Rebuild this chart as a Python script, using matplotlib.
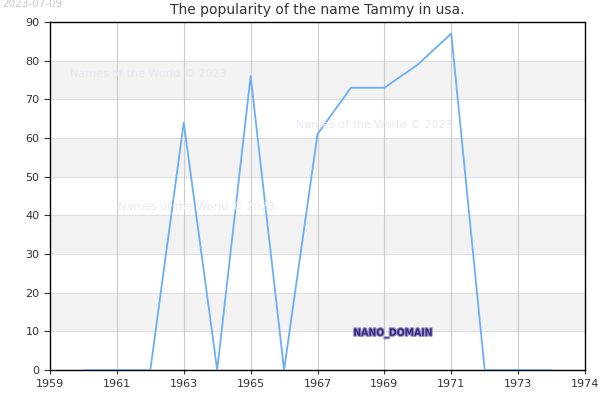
import matplotlib
matplotlib.use('Agg')
import matplotlib.pyplot as plt
import matplotlib.patheffects as pe

years = [1960, 1961, 1962, 1963, 1964, 1965, 1966, 1967, 1968, 1969, 1970, 1971, 1972, 1973, 1974]
counts = [0, 0, 0, 64, 0, 76, 0, 61, 73, 73, 79, 87, 0, 0, 0]
xticks = [1959, 1961, 1963, 1965, 1967, 1969, 1971, 1973, 1975]
xlabels = ['1959', '1961', '1963', '1965', '1967', '1969', '1971', '1973', '1974']
yticks = [0, 10, 20, 30, 40, 50, 60, 70, 80, 90]

fig = plt.figure(figsize=(6, 4), dpi=100)
ax = fig.add_axes([50/600, 30/400, 535/600, 348/400])

# alternating bands
for lo in range(10, 90, 20):
    ax.axhspan(lo, lo + 10, color='#f2f2f2', zorder=0)
for y in yticks:
    ax.axhline(y, color='#e0e0e0', lw=0.8, zorder=1)
for x in xticks[1:-1]:
    ax.axvline(x, color='#cccccc', lw=0.8, zorder=1)

ax.plot(years, counts, color='#6aaef5', lw=1.3, zorder=3)

ax.set_xlim(1959, 1975)
ax.set_ylim(0, 90)
ax.set_xticks(xticks)
ax.set_xticklabels(xlabels)
ax.set_yticks(yticks)
ax.tick_params(labelsize=8, colors='#333333', length=3)
ax.tick_params(axis='y', length=4)
for s in ax.spines.values():
    s.set_color('black')
    s.set_linewidth(1)

ax.set_title('The popularity of the name Tammy in usa.', fontsize=10, color='#333333', pad=6)

fig.text(70/600, 1 - 74/400, 'Names of the World © 2023', color='#e8e8f5', fontsize=8, va='center')
fig.text(296/600, 1 - 125/400, 'Names of the World © 2023', color='#e8e8f5', fontsize=8, va='center')
fig.text(118/600, 1 - 207/400, 'Names of the World © 2023', color='#e8e8f5', fontsize=8, va='center')

fig.text(2/600, 1 - 4/400, '2023-07-09', color='#c8c8c8', fontsize=7.5, va='center')

t = fig.text(393/600, 1 - 333/400, 'NANO_DOMAIN', color='#3c2a78', fontsize=7.5,
             ha='center', va='center', fontweight='bold', fontstretch='condensed')
t.set_path_effects([pe.withStroke(linewidth=1.5, foreground='#9b8fd0')])

fig.savefig('out.png', dpi=100)
